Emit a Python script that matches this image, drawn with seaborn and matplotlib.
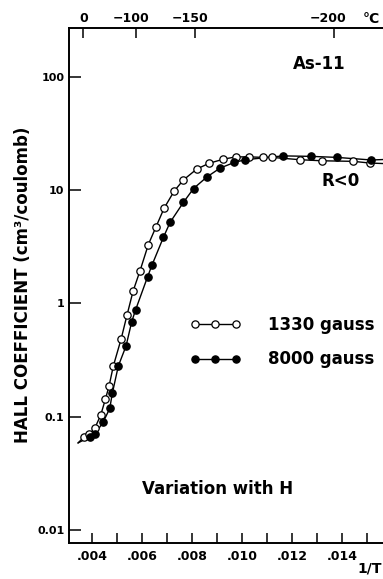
import numpy as np
import pandas as pd
import matplotlib
matplotlib.use("Agg")
import matplotlib.pyplot as plt
import matplotlib.transforms as mtransforms
from matplotlib.lines import Line2D
from matplotlib.legend_handler import HandlerLine2D
import seaborn as sns

# ---------------- data ----------------
inv_T_1330 = [0.003704, 0.003904, 0.004132, 0.00436, 0.004544, 0.004692, 0.004864,
              0.005172, 0.005412, 0.005652, 0.005932, 0.006264, 0.00656, 0.006892,
              0.007292, 0.007664, 0.0082, 0.008692, 0.009264, 0.00976, 0.010292,
              0.010852, 0.0112, 0.012332, 0.013224, 0.014464, 0.015112]
hall_1330 = [0.0665, 0.0698, 0.0798, 0.1033, 0.142, 0.186, 0.280,
             0.481, 0.789, 1.277, 1.94, 3.30, 4.67, 6.89,
             9.74, 12.25, 15.3, 17.2, 18.7, 19.6, 19.6,
             19.4, 19.4, 18.5, 18.1, 17.9, 17.3]

inv_T_8000 = [0.003932, 0.004132, 0.004464, 0.00472, 0.004824, 0.005064, 0.005372,
              0.0056, 0.005752, 0.006232, 0.006412, 0.006864, 0.007132, 0.007664,
              0.008072, 0.0086, 0.009132, 0.0097, 0.010144, 0.011652, 0.012784,
              0.0138, 0.01518]
hall_8000 = [0.0665, 0.0701, 0.0901, 0.118, 0.161, 0.280, 0.420,
             0.689, 0.873, 1.71, 2.18, 3.81, 5.17, 7.76,
             10.3, 13.0, 15.6, 17.5, 18.5, 20.0, 19.8,
             19.4, 18.4]

# ends of the drawn curves (line only, no marker)
curve_start = (0.00345, 0.0585)
curve_end_1330 = (0.0163, 16.9)
curve_end_8000 = (0.0163, 18.8)

series_labels = ["1330 gauss", "8000 gauss"]

x_ticks = [0.004, 0.005, 0.006, 0.007, 0.008, 0.009, 0.010, 0.011, 0.012, 0.013, 0.014, 0.015]
x_tick_labels = [".004", "", ".006", "", ".008", "", ".010", "", ".012", "", ".014", ""]
y_ticks = [0.01, 0.1, 1, 10, 100]
y_tick_labels = ["0.01", "0.1", "1", "10", "100"]
temp_ticks_C = [0, -100, -150, -200]
temp_tick_labels = ["0", "\u2212100", "\u2212150", "\u2212200"]

# ---------------- tables ----------------
pts = pd.concat([
    pd.DataFrame({"x": inv_T_1330, "y": hall_1330, "H": series_labels[0]}),
    pd.DataFrame({"x": inv_T_8000, "y": hall_8000, "H": series_labels[1]}),
], ignore_index=True)

curve_1330 = pd.DataFrame({
    "x": [curve_start[0]] + inv_T_1330 + [curve_end_1330[0]],
    "y": [curve_start[1]] + hall_1330 + [curve_end_1330[1]],
})
curve_8000 = pd.DataFrame({
    "x": [curve_start[0]] + inv_T_8000 + [curve_end_8000[0]],
    "y": [curve_start[1]] + hall_8000 + [curve_end_8000[1]],
})

# ---------------- style ----------------
sns.set_theme(style="ticks")
plt.rcParams["font.family"] = ["DejaVu Sans"]
plt.rcParams["font.weight"] = "bold"
plt.rcParams["axes.linewidth"] = 1.4
for k in ["text.color", "axes.labelcolor", "xtick.color", "ytick.color",
          "xtick.labelcolor", "ytick.labelcolor", "axes.edgecolor"]:
    plt.rcParams[k] = "black"

W, H = 383, 579
fig = plt.figure(figsize=(W / 100, H / 100), dpi=100)
fig.patch.set_facecolor("white")

left_px, right_px, top_px, bot_px = 68.5, 404, 28, 543
ax = fig.add_axes([left_px / W, 1 - bot_px / H, (right_px - left_px) / W, (bot_px - top_px) / H])
ax.set_facecolor("white")

ax.set_yscale("log")
ax.set_xlim(0.00307, 0.01649)
ax.set_ylim(0.00766, 269)

lw = 1.0
sns.lineplot(data=curve_1330, x="x", y="y", ax=ax, color="black", lw=lw,
             estimator=None, sort=False, legend=False, zorder=2)
sns.lineplot(data=curve_8000, x="x", y="y", ax=ax, color="black", lw=lw,
             estimator=None, sort=False, legend=False, zorder=2)

d1 = pts[pts["H"] == series_labels[0]]
d2 = pts[pts["H"] == series_labels[1]]
ms = 28
sns.scatterplot(data=d1, x="x", y="y", ax=ax, s=ms, marker="o", facecolor="white",
                edgecolor="black", linewidth=0.9, zorder=3, legend=False)
sns.scatterplot(data=d2, x="x", y="y", ax=ax, s=ms, marker="o", facecolor="black",
                edgecolor="black", linewidth=0.9, zorder=3, legend=False)

ax.set_xlabel("")
ax.set_ylabel("")

# spines
ax.spines["right"].set_visible(False)
for s in ["left", "bottom", "top"]:
    ax.spines[s].set_color("black")
    ax.spines[s].set_linewidth(1.4)

# y ticks
ax.yaxis.set_major_locator(matplotlib.ticker.FixedLocator(y_ticks))
ax.yaxis.set_minor_locator(matplotlib.ticker.NullLocator())
ax.set_yticklabels(y_tick_labels)
ax.tick_params(axis="y", which="major", direction="in", length=8.5, width=1.1,
               pad=3, labelsize=8, colors="black")

# bottom x ticks
ax.set_xticks(x_ticks)
ax.set_xticklabels(x_tick_labels)
ax.xaxis.set_minor_locator(matplotlib.ticker.NullLocator())
ax.tick_params(axis="x", which="major", direction="in", length=7.5, width=1.1,
               pad=5, labelsize=9, colors="black", top=False)
for t in ax.get_xticklabels():
    t.set_fontweight("bold")
for t in ax.get_yticklabels():
    t.set_fontweight("bold")

# top temperature axis
ax2 = ax.twiny()
ax2.set_xlim(ax.get_xlim())
ax2.set_xticks([1.0 / (t + 273.15) for t in temp_ticks_C])
ax2.set_xticklabels(temp_tick_labels)
ax2.tick_params(axis="x", direction="in", length=7.5, width=1.1, pad=2,
                labelsize=9, colors="black")
for sname in ["left", "right", "bottom", "top"]:
    ax2.spines[sname].set_visible(False)
ax2.grid(False)
for t, lab in zip(ax2.get_xticklabels(), temp_tick_labels):
    t.set_fontweight("bold")
    t.set_color("black")
    if lab.startswith("\u2212"):
        t.set_transform(t.get_transform() +
                        mtransforms.ScaledTranslation(-5 / 100, 0, fig.dpi_scale_trans))

# legend
h1 = Line2D([], [], color="black", lw=lw, marker="o", markersize=5.2,
            markerfacecolor="white", markeredgecolor="black", markeredgewidth=0.9)
h2 = Line2D([], [], color="black", lw=lw, marker="o", markersize=5.2,
            markerfacecolor="black", markeredgecolor="black", markeredgewidth=0.9)
leg = ax.legend([h1, h2], series_labels, loc="center left",
                bbox_to_anchor=((178.3 - left_px) / (right_px - left_px), (bot_px - 342) / (bot_px - top_px)),
                frameon=False, borderpad=0, borderaxespad=0, handlelength=4.46,
                handletextpad=0.93, labelspacing=1.0,
                prop={"size": 12, "weight": "bold"},
                handler_map={Line2D: HandlerLine2D(numpoints=3, marker_pad=1.0)})
for t in leg.get_texts():
    t.set_color("black")

# annotations
ax.text((319 - left_px) / (right_px - left_px), (bot_px - 64) / (bot_px - top_px), "As-11",
        transform=ax.transAxes, ha="center", va="center", fontsize=12, fontweight="bold",
        color="black")
ax.text((341 - left_px) / (right_px - left_px), (bot_px - 181) / (bot_px - top_px), "R<0",
        transform=ax.transAxes, ha="center", va="center", fontsize=12, fontweight="bold",
        color="black")
ax.text((218 - left_px) / (right_px - left_px), (bot_px - 488.5) / (bot_px - top_px),
        "Variation with H", transform=ax.transAxes, ha="center", va="center",
        fontsize=12, fontweight="bold", color="black")

fig.text(23 / W, 1 - 285 / H, "HALL COEFFICIENT (cm\u00b3/coulomb)", rotation=90,
         ha="center", va="center", fontsize=12, fontweight="bold", color="black")
fig.text(363 / W, 1 - 19 / H, "\u00b0C", ha="left", va="center", fontsize=10,
         fontweight="bold", color="black")
fig.text(357 / W, 1 - 568 / H, "1/T", ha="left", va="center", fontsize=10,
         fontweight="bold", color="black")

fig.savefig("out.png", dpi=100, facecolor="white")
